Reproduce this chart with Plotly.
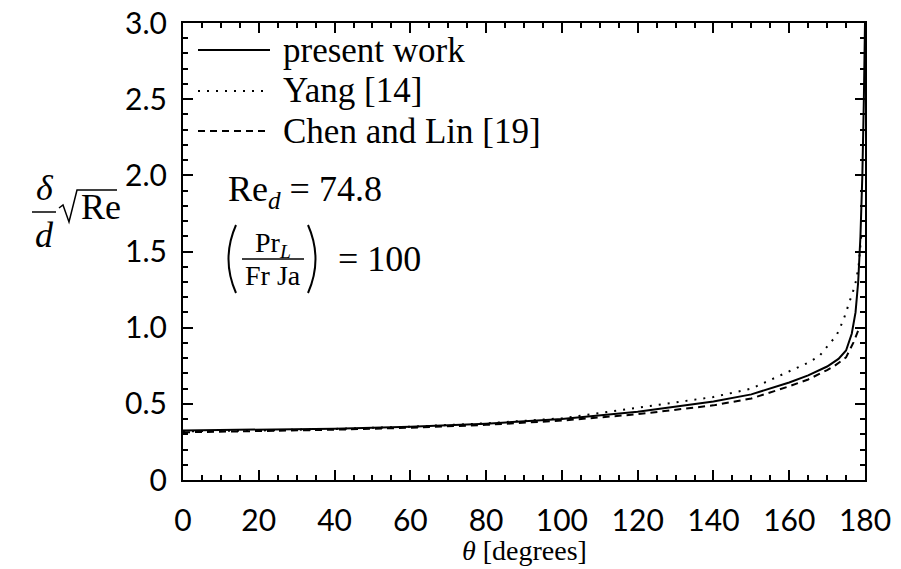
import plotly.graph_objects as go

# ---------------- data ----------------
theta_present = [0, 20, 40, 60, 80, 100, 120, 140, 150, 160, 165, 170, 173, 175, 176.5, 177.5, 178.2, 178.8, 179.3, 179.7, 180]
present = [0.325, 0.330, 0.337, 0.350, 0.370, 0.400, 0.448, 0.515, 0.562, 0.640, 0.687, 0.745, 0.795, 0.850, 0.960, 1.100, 1.300, 1.600, 2.000, 2.500, 3.000]

theta_yang = [0, 20, 40, 60, 80, 100, 120, 140, 150, 160, 165, 168, 170, 172.5, 174.3, 176.1, 177.4, 178.3, 179]
yang = [0.320, 0.325, 0.335, 0.350, 0.372, 0.405, 0.475, 0.545, 0.600, 0.710, 0.770, 0.815, 0.875, 0.950, 1.050, 1.180, 1.280, 1.400, 1.600]

theta_chen = [0, 20, 40, 60, 80, 100, 120, 140, 150, 160, 165, 170, 172, 175, 177, 178.5]
chen = [0.313, 0.320, 0.330, 0.343, 0.362, 0.390, 0.432, 0.490, 0.535, 0.615, 0.660, 0.722, 0.750, 0.805, 0.905, 1.000]

series_names = ["present work", "Yang [14]", "Chen and Lin [19]"]
series_dash = ["solid", "2px,7px", "7px,5px"]

x_ticks = [0, 20, 40, 60, 80, 100, 120, 140, 160, 180]
x_ticktext = ["0", "20", "40", "60", "80", "100", "120", "140", "160", "180"]
y_ticks = [0, 0.5, 1.0, 1.5, 2.0, 2.5, 3.0]
y_ticktext = ["0", "0.5", "1.0", "1.5", "2.0", "2.5", "3.0"]

# ---------------- layout geometry ----------------
W, H = 901, 569
L, R, T, B = 183, 865, 23, 480

def px(x):
    return (x - L) / (R - L)

def py(y):
    return (B - y) / (B - T)

SERIF = "Liberation Serif, Times New Roman, serif"
SANS = "Lato, Roboto, sans-serif"

fig = go.Figure()
for xs, ys, name, dash in zip([theta_present, theta_yang, theta_chen],
                              [present, yang, chen], series_names, series_dash):
    fig.add_trace(go.Scatter(x=xs, y=ys, mode="lines", name=name,
                             line=dict(color="black", width=2, dash=dash),
                             showlegend=False))

shapes = []
annotations = []

def text(x, y, s, size, anchor="left", family=SERIF):
    annotations.append(dict(xref="paper", yref="paper", x=px(x), y=py(y),
                            xanchor=anchor, yanchor="middle", showarrow=False,
                            text=s, font=dict(family=family, size=size, color="black")))

# manual legend
legend_rows = [50, 91, 131]
for name, dash, yy in zip(series_names, series_dash, legend_rows):
    shapes.append(dict(type="line", xref="paper", yref="paper",
                       x0=px(198), x1=px(270), y0=py(yy), y1=py(yy),
                       line=dict(color="black", width=2, dash=dash)))
    text(281, yy, name, 35)

# parameters annotation
text(226, 191, "Re<sub><i>d</i></sub> = 74.8", 36)
text(273, 244, "Pr<sub><i>L</i></sub>", 28, anchor="center")
text(273, 275, "Fr Ja", 28, anchor="center")
text(336, 259, "= 100", 36)
shapes.append(dict(type="line", xref="paper", yref="paper",
                   x0=px(242), x1=px(304), y0=py(259), y1=py(259),
                   line=dict(color="black", width=1.5)))
shapes.append(dict(type="path", xref="paper", yref="paper",
                   path=f"M {px(236)},{py(225)} Q {px(221)},{py(259)} {px(236)},{py(293)}",
                   line=dict(color="black", width=2)))
shapes.append(dict(type="path", xref="paper", yref="paper",
                   path=f"M {px(308)},{py(225)} Q {px(323)},{py(259)} {px(308)},{py(293)}",
                   line=dict(color="black", width=2)))

# y-axis label: delta/d sqrt(Re)
cx = 44
text(cx + 1, 188, "<i>δ</i>", 36, anchor="center")
text(cx, 235, "<i>d</i>", 36, anchor="center")
shapes.append(dict(type="line", xref="paper", yref="paper",
                   x0=px(cx - 12), x1=px(cx + 12), y0=py(212), y1=py(212),
                   line=dict(color="black", width=1.5)))
shapes.append(dict(type="path", xref="paper", yref="paper",
                   path=(f"M {px(cx + 15)},{py(208)} L {px(cx + 19)},{py(205)} L {px(cx + 25)},{py(222)} "
                         f"L {px(cx + 33)},{py(190)} L {px(117)},{py(190)}"),
                   line=dict(color="black", width=1.5)))
text(cx + 35, 207, "Re", 36)

# x-axis title
text((L + R) / 2, 550, "<i>θ</i> [degrees]", 28, anchor="center")

axis_common = dict(
    showline=True, linecolor="black", linewidth=2, mirror="allticks",
    ticks="inside", ticklen=10, tickwidth=1.5, tickcolor="black",
    showgrid=False, zeroline=False, automargin=False,
    tickfont=dict(family=SANS, size=30, color="black"),
)

fig.update_layout(
    width=W, height=H,
    margin=dict(l=L, r=W - R, t=T, b=H - B, pad=0, autoexpand=False),
    paper_bgcolor="white", plot_bgcolor="white",
    xaxis=dict(range=[0, 180], tickvals=x_ticks, ticktext=x_ticktext,
               minor=dict(ticks="inside", dtick=5, ticklen=5, tickwidth=1.5, tickcolor="black"),
               ticklabelstandoff=13, **axis_common),
    yaxis=dict(range=[0, 3], tickvals=y_ticks, ticktext=y_ticktext,
               minor=dict(ticks="inside", dtick=0.1, ticklen=5, tickwidth=1.5, tickcolor="black"),
               ticklabelstandoff=8, **axis_common),
    shapes=shapes, annotations=annotations, showlegend=False,
)

fig.write_html("out.html")
